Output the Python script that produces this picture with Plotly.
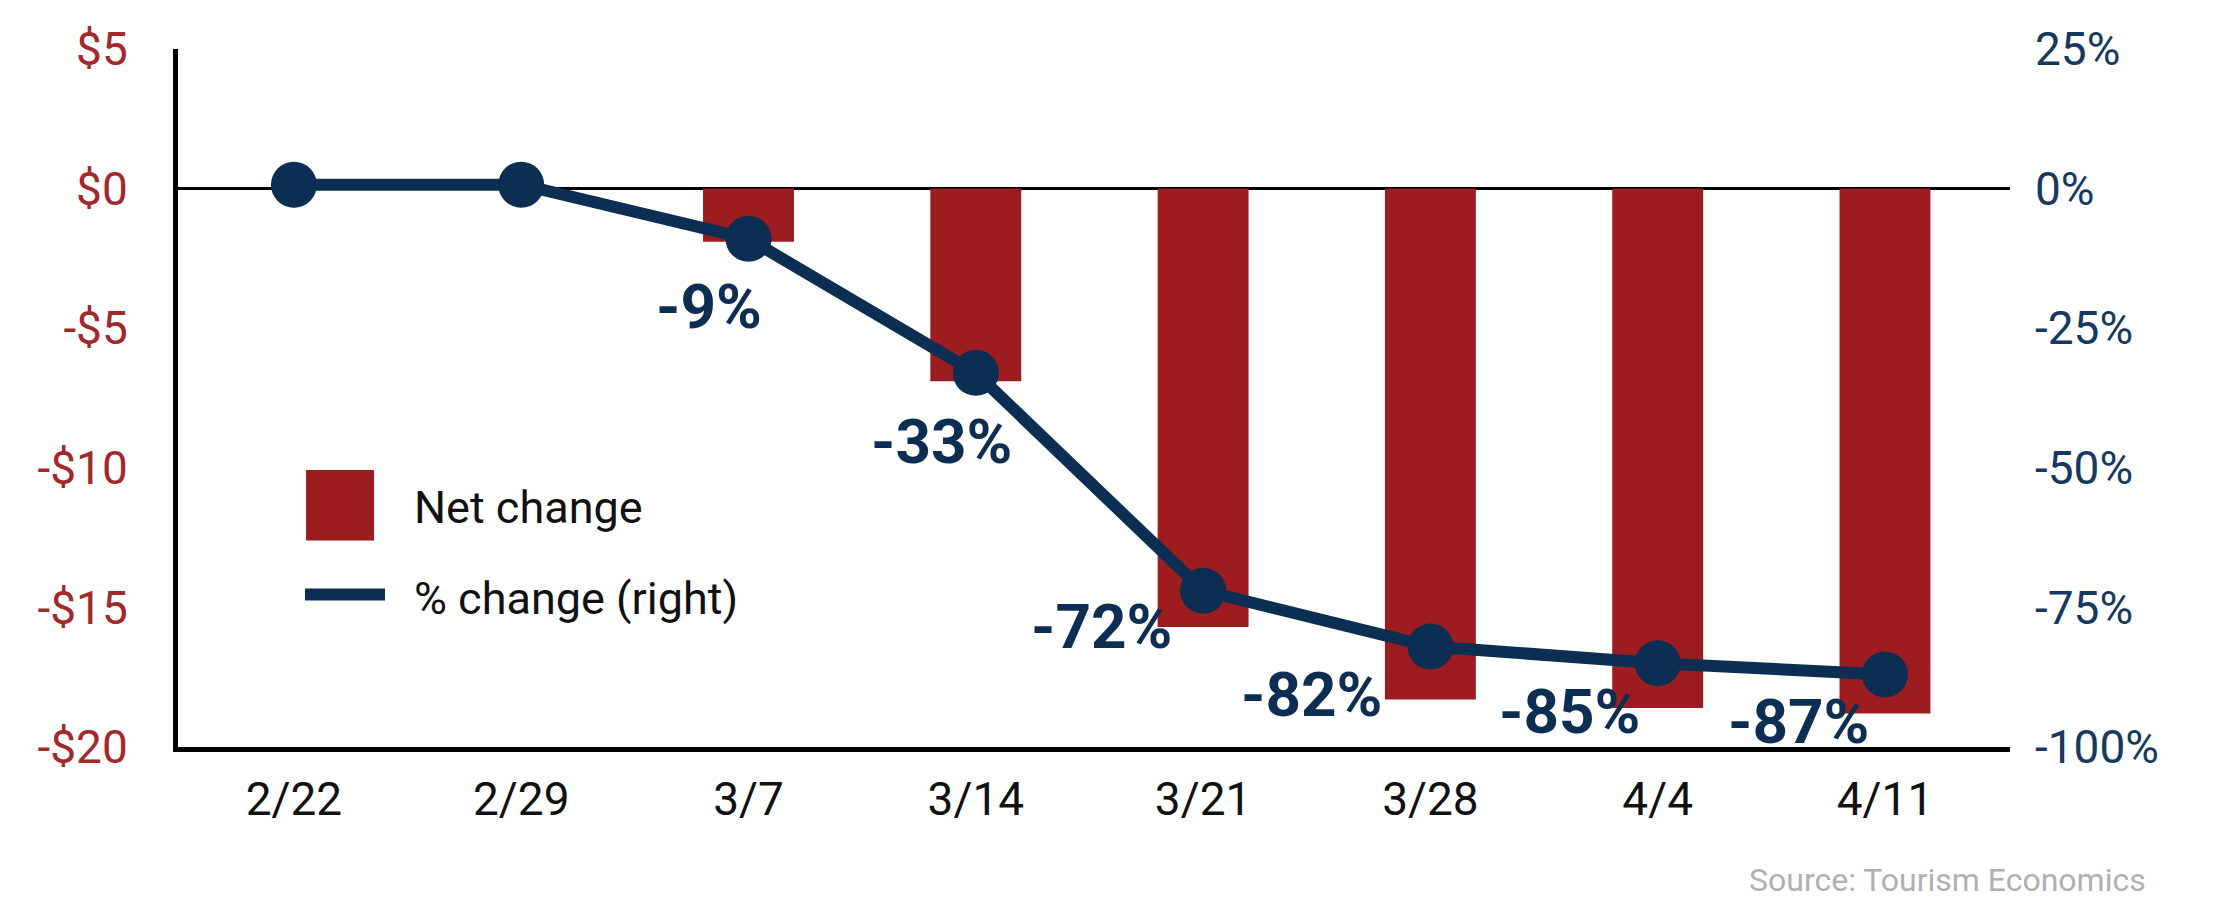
import plotly.graph_objects as go

# ---- data ----
weeks = ["2/22", "2/29", "3/7", "3/14", "3/21", "3/28", "4/4", "4/11"]
net_change = [0, 0, -1.9, -6.9, -15.7, -18.3, -18.6, -18.8]      # $ (left axis)
pct_change = [0.7, 0.7, -9, -33, -72, -82, -85, -87]              # % (right axis)
labelled = [False, False, True, True, True, True, True, True]

left_ticks = [-20, -15, -10, -5, 0, 5]
left_tick_text = ["-$20", "-$15", "-$10", "-$5", "$0", "$5"]
right_ticks = [-100, -75, -50, -25, 0, 25]
right_tick_text = ["-100%", "-75%", "-50%", "-25%", "0%", "25%"]

# label offsets (pixels) relative to each point
label_dx = [0, 0, -40, -34, -102, -119, -88, -86]
label_dy = [0, 0, -68, -69, -36, -48, -48, -47]

RED = "#9C1C20"
NAVY = "#0B2E52"
FONT = "Roboto, Liberation Sans, sans-serif"

fig = go.Figure()
fig.add_trace(go.Bar(
    x=weeks, y=net_change, name="Net change",
    marker=dict(color=RED, line=dict(width=0)), width=0.4, yaxis="y",
))
fig.add_trace(go.Scatter(
    x=weeks, y=pct_change, name="% change (right)", yaxis="y2",
    mode="lines+markers",
    line=dict(color=NAVY, width=12),
    marker=dict(color=NAVY, size=46),
))

for w, v, show, dx, dy in zip(weeks, pct_change, labelled, label_dx, label_dy):
    if show:
        fig.add_annotation(
            x=w, y=v, xref="x", yref="y2", text=f"{v:g}%", showarrow=False,
            xshift=dx, yshift=dy,
            font=dict(family=FONT, size=62, color=NAVY, weight="bold"),
        )

# manual legend
fig.add_shape(type="rect", xref="paper", yref="paper",
              x0=0.0699, x1=0.1070, y0=0.296, y1=0.397,
              fillcolor=RED, line=dict(width=0))
fig.add_shape(type="line", xref="paper", yref="paper",
              x0=0.0693, x1=0.1130, y0=0.2186, y1=0.2186,
              line=dict(color=NAVY, width=12))
fig.add_annotation(xref="paper", yref="paper", x=0.1277, y=0.343,
                   xanchor="left", yanchor="middle", showarrow=False,
                   text="Net change", font=dict(family=FONT, size=45, color="#111111"))
fig.add_annotation(xref="paper", yref="paper", x=0.1277, y=0.213,
                   xanchor="left", yanchor="middle", showarrow=False,
                   text="% change (right)", font=dict(family=FONT, size=45, color="#111111"))

fig.add_annotation(xref="paper", yref="paper", x=1.0753, y=-0.19,
                   xanchor="right", yanchor="middle", showarrow=False,
                   text="Source: Tourism Economics",
                   font=dict(family=FONT, size=32, color="#B0B0B0"))

fig.update_layout(
    width=2214, height=904,
    margin=dict(l=178, r=204, t=49, b=157, pad=0),
    paper_bgcolor="white", plot_bgcolor="white",
    showlegend=False,
    bargap=0.6,
    xaxis=dict(
        type="category", range=[-0.51, 7.55],
        showline=True, linecolor="black", linewidth=5,
        showgrid=False, zeroline=False, ticks="",
        tickfont=dict(family=FONT, size=46, color="#111111"),
        ticklabelstandoff=8,
    ),
    yaxis=dict(
        range=[-20, 5], tickvals=left_ticks, ticktext=left_tick_text,
        showline=True, linecolor="black", linewidth=5,
        showgrid=False, zeroline=True, zerolinecolor="black", zerolinewidth=3,
        ticks="",
        tickfont=dict(family=FONT, size=46, color="#A3282C"),
        ticklabelstandoff=36,
    ),
    yaxis2=dict(
        range=[-100, 25], tickvals=right_ticks, ticktext=right_tick_text,
        overlaying="y", side="right",
        showline=False, showgrid=False, zeroline=False, ticks="",
        tickfont=dict(family=FONT, size=46, color="#15395F"),
        ticklabelstandoff=24,
    ),
)

fig.write_html("out.html")
